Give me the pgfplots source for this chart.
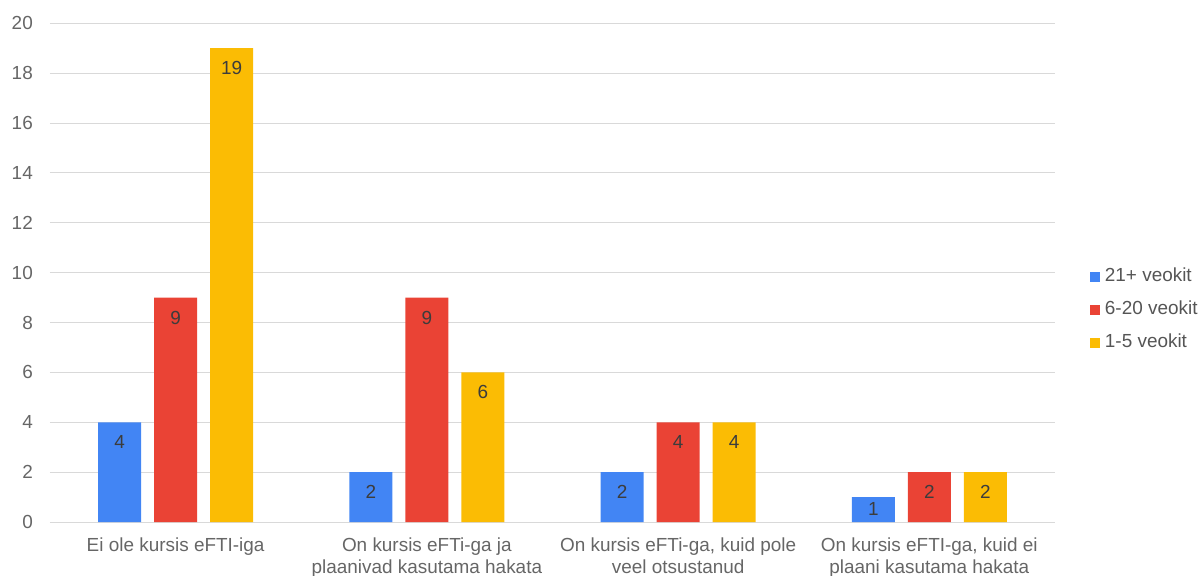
\documentclass[border=0pt]{standalone}
\usepackage{pgfplots}
\pgfplotsset{compat=1.18}
\usepackage{fontspec}
\setmainfont{Liberation Sans}

\definecolor{cBig}{HTML}{4285F4}
\definecolor{cMid}{HTML}{EA4335}
\definecolor{cSmall}{HTML}{FBBC04}
\definecolor{gridc}{HTML}{D9D9D9}
\definecolor{labc}{HTML}{666666}
\definecolor{legc}{HTML}{555555}
\definecolor{valc}{HTML}{3C3C3C}

\begin{document}
\begin{tikzpicture}
\begin{axis}[
  at={(0,0)}, anchor=south west,
  scale only axis, width=1005bp, height=498.7bp,
  xmin=-0.5, xmax=3.5, ymin=0, ymax=20,
  enlargelimits=false,
  ybar=13bp, bar width=43bp,
  xtick={0,1,2,3},
  xticklabels={
    Ei ole kursis eFTI-iga,
    {On kursis eFTi-ga ja\\plaanivad kasutama hakata},
    {On kursis eFTi-ga, kuid pole\\veel otsustanud},
    {On kursis eFTI-ga, kuid ei\\plaani kasutama hakata}},
  ytick={0,2,...,20},
  ymajorgrids, grid style={gridc, line width=1bp},
  axis line style={draw=none}, major tick length=0pt,
  tick label style={font=\fontsize{19}{22}\selectfont, text=labc},
  yticklabel style={anchor=east, inner sep=0pt, xshift=-17bp},
  xticklabel style={anchor=north, inner sep=0pt, align=center, yshift=-16bp},
  /pgf/number format/assume math mode=true,
  % value labels sit inside the bar top; short bars keep them above the base
  visualization depends on={rawy \as \rawy},
  nodes near coords,
  every node near coord/.append style={font=\fontsize{19}{19}\selectfont, text=valc,
    anchor=center, yshift={(13-min(33,24.935*\rawy))*1bp}},
  legend style={at={(1.0348,0.4251)}, anchor=west, draw=none, fill=none,
    inner sep=0pt, outer sep=0pt, column sep=5bp, row sep=16bp,
    font=\fontsize{19}{22}\selectfont, text=legc,
    nodes={inner sep=0pt, text height=13bp, text depth=4bp}},
  legend cell align=left,
  legend image code/.code={\fill[#1,draw=none] (0bp,-5bp) rectangle (10bp,5bp);},
]
\addplot[fill=cBig, draw=none] coordinates {(0,4) (1,2) (2,2) (3,1)};
\addplot[fill=cMid, draw=none] coordinates {(0,9) (1,9) (2,4) (3,2)};
\addplot[fill=cSmall, draw=none] coordinates {(0,19) (1,6) (2,4) (3,2)};
\legend{21+ veokit, 6-20 veokit, 1-5 veokit}
\end{axis}
\pgfresetboundingbox
\useasboundingbox (-50bp,-54bp) rectangle (1149bp,522bp);
\end{tikzpicture}
\end{document}
